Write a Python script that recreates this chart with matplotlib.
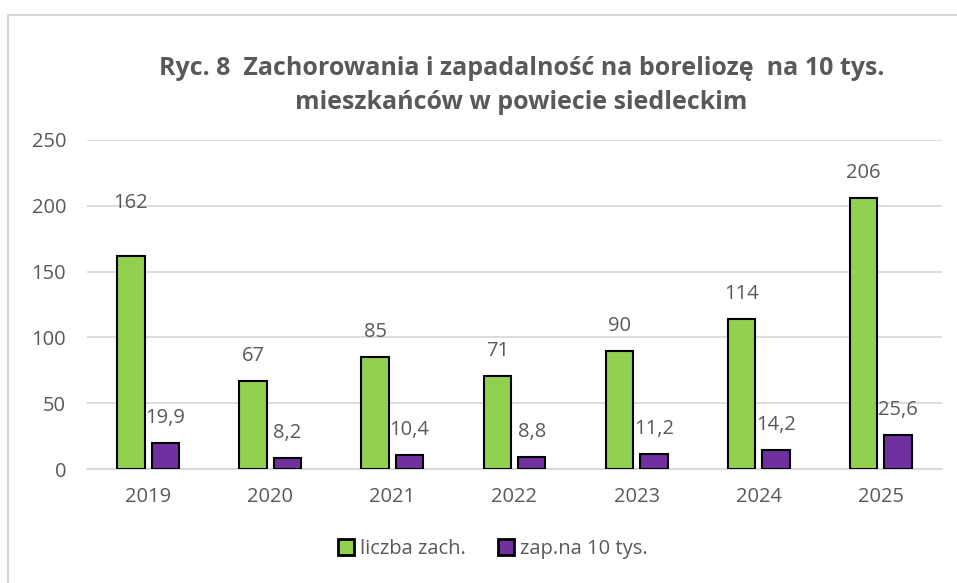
import matplotlib.pyplot as plt
import matplotlib.patches as patches
import numpy as np

plt.rcParams['font.family'] = ['Open Sans', 'DejaVu Sans']

# Data
years = ['2019', '2020', '2021', '2022', '2023', '2024', '2025']
cases = [162, 67, 85, 71, 90, 114, 206]
incidence = [19.9, 8.2, 10.4, 8.8, 11.2, 14.2, 25.6]
series_names = ['liczba zach.', 'zap.na 10 tys.']

green = '#92D050'
purple = '#7030A0'
text_color = '#595959'
grid_color = '#D9D9D9'

fig = plt.figure(figsize=(9.57, 5.83), dpi=100)
ax = fig.add_axes([0.0909, 0.1955, 0.8934, 0.5644])

# Chart frame (light gray border, cut off at right and bottom)
frame = patches.Rectangle((0.008, -0.1), 1.1, 1.074, transform=fig.transFigure,
                          facecolor='none', edgecolor='#D9D9D9', linewidth=1.5)
fig.patches.append(frame)

x = np.arange(len(years))
w = 0.225
off = 0.141
b1 = ax.bar(x - off, cases, w, color=green, edgecolor='black', linewidth=1.5, zorder=3,
            label=series_names[0])
b2 = ax.bar(x + off, incidence, w, color=purple, edgecolor='black', linewidth=1.5, zorder=3,
            label=series_names[1])

ax.set_ylim(0, 250)
ax.set_xlim(-0.5, len(years) - 0.5)
ax.set_yticks(np.arange(0, 251, 50))
ax.yaxis.grid(True, color=grid_color, linewidth=1.3, zorder=0)
ax.set_axisbelow(True)
for s in ['top', 'right', 'left']:
    ax.spines[s].set_visible(False)
ax.spines['bottom'].set_color(grid_color)
ax.spines['bottom'].set_linewidth(1.3)
ax.tick_params(axis='both', length=0, labelsize=14.5, colors=text_color)
ax.tick_params(axis='y', pad=15)
ax.tick_params(axis='x', pad=13)
ax.set_xticks(x)
ax.set_xticklabels(years)

# Data labels (the 162 label was placed higher in the original)
green_pad = [53, 25, 25, 25, 25, 25, 25]
for xi, v, p in zip(x, cases, green_pad):
    ax.annotate(f'{v}', (xi - off, v), xytext=(0, p), textcoords='offset pixels',
                ha='center', va='center', fontsize=14.5, color=text_color)
for xi, v in zip(x, incidence):
    ax.annotate(f'{v}'.replace('.', ','), (xi + off, v), xytext=(0, 25),
                textcoords='offset pixels', ha='center', va='center',
                fontsize=14.5, color=text_color)

fig.text(0.545, 0.853, 'Ryc. 8  Zachorowania i zapadalność na boreliozę  na 10 tys.\nmieszkańców w powiecie siedleckim',
         ha='center', va='center', fontsize=18, fontweight='bold', color=text_color,
         linespacing=1.45)

leg = fig.legend(handles=[b1, b2], loc='center', bbox_to_anchor=(0.515, 0.058),
                 ncol=2, frameon=False, fontsize=14.5, handlelength=0.8, handleheight=0.8,
                 handletextpad=0.3, columnspacing=1.6)
for t in leg.get_texts():
    t.set_color(text_color)
for h in leg.legend_handles:
    h.set_linewidth(2)

fig.savefig('out.png', dpi=100)
